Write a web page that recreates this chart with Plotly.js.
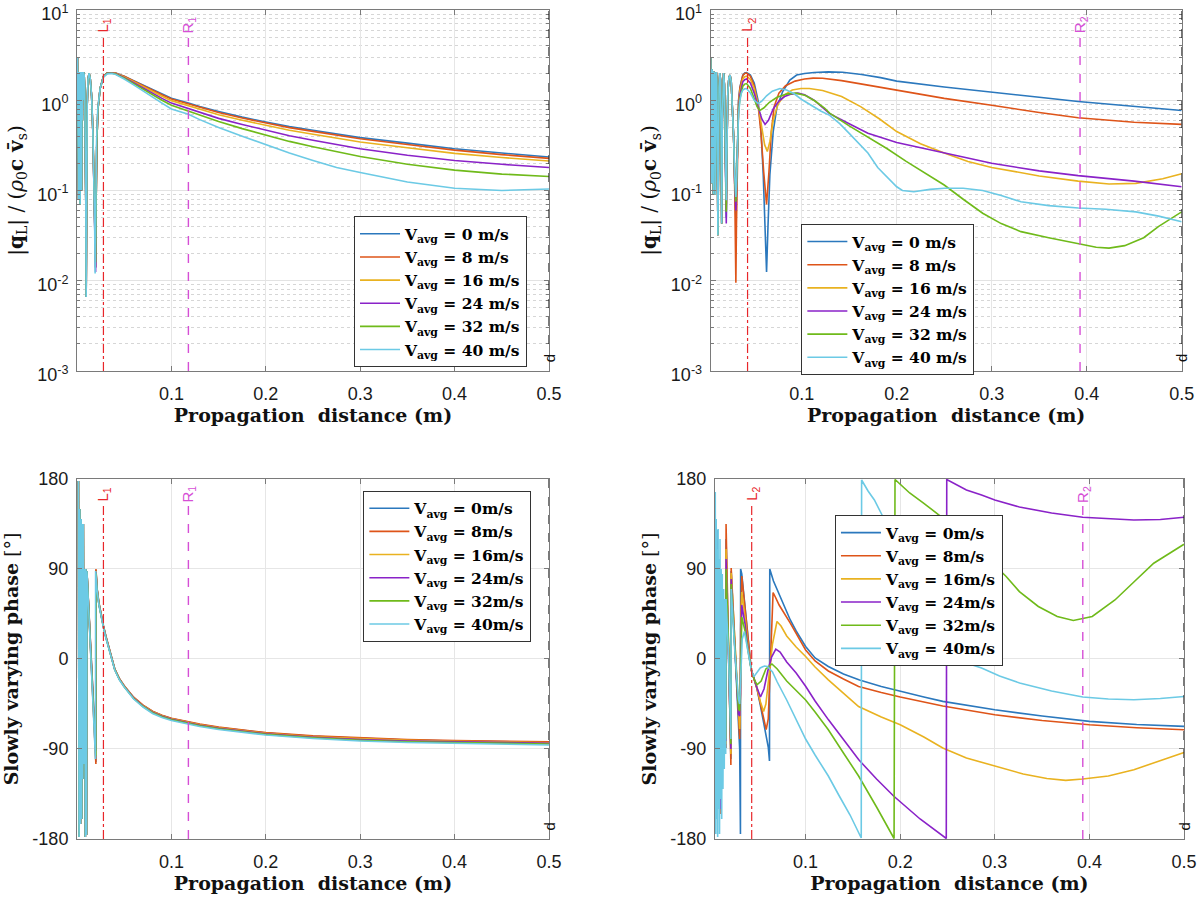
<!DOCTYPE html>
<html><head><meta charset="utf-8">
<script src="https://cdn.plot.ly/plotly-3.0.1.min.js"></script>
<style>html,body{margin:0;padding:0;background:#fff}#chart{width:1200px;height:901px}</style>
</head><body><div id="chart"></div>
<script>
// ---------------- series meta ----------------
const COLORS = ['#2B78BD', '#DE5419', '#E9B220', '#8A22C8', '#6FBA1A', '#6CCAE5'];
const labelsTop = ['0 m/s', '8 m/s', '16 m/s', '24 m/s', '32 m/s', '40 m/s'];
const labelsBottom = ['0m/s', '8m/s', '16m/s', '24m/s', '32m/s', '40m/s'];
const markL = [0.028, 0.043];   // L1, L2
const markR = [0.118, 0.393];   // R1, R2
const markD = 0.5;              // d

// ---------------- top-left: |q_L| (case 1) ----------------
const tlNearXc = [0.0005,0.0009,0.0013,0.0017,0.0021,0.0025,0.0029,0.0033,0.0037,0.0041,0.0045,0.0049,0.0053,0.0057,0.0061,0.0065,0.007,0.0076,0.0082,0.0088,0.0093,0.0097,0.0102,0.0108,0.0117,0.0128,0.014,0.0155,0.0168,0.0178,0.0186,0.0192,0.0198,0.0207,0.022,0.0245,0.028,0.032];
const tlNearX  = [0.0005,0.0009,0.0013,0.0017,0.0021,0.0025,0.0029,0.0033,0.0037,0.0041,0.0045,0.0049,0.0053,0.0057,0.0061,0.0065,0.007,0.0076,0.0082,0.0088,0.0093,0.0097,0.0102,0.0108,0.0117,0.0128,0.014,0.0155,0.0168,0.0178,0.0188,0.0197,0.0203,0.021,0.0222,0.0245,0.028,0.032];
const tlNear0 = [3.0,0.35,2.1,0.08,2.05,0.5,2.05,0.07,2.05,0.25,2.05,0.1,2.0,0.6,2.05,1.0,2.05,1.9,1.3,0.4,0.08,0.0066,0.2,0.9,1.7,2.0,1.75,1.1,0.45,0.17,0.05,0.014,0.08,0.35,0.8,1.35,1.85,2.02];
const tlNear1 = [3.0,0.35,2.1,0.08,2.05,0.5,2.05,0.07,2.05,0.25,2.05,0.1,2.0,0.6,2.05,1.0,2.05,1.9,1.3,0.4,0.08,0.0066,0.2,0.9,1.7,2.0,1.75,1.1,0.45,0.17,0.05,0.014,0.08,0.35,0.8,1.35,1.84,2.02];
const tlNear2 = [3.0,0.35,2.1,0.08,2.05,0.5,2.05,0.07,2.05,0.25,2.05,0.1,2.0,0.6,2.05,1.0,2.05,1.9,1.3,0.4,0.08,0.0066,0.2,0.9,1.7,2.0,1.75,1.1,0.45,0.17,0.05,0.018,0.08,0.35,0.8,1.35,1.83,2.01];
const tlNear3 = [3.0,0.35,2.1,0.08,2.05,0.5,2.05,0.07,2.05,0.25,2.05,0.1,2.0,0.6,2.05,1.0,2.05,1.9,1.3,0.4,0.08,0.0066,0.2,0.9,1.7,2.0,1.75,1.1,0.45,0.17,0.05,0.0125,0.08,0.35,0.8,1.35,1.82,2.0];
const tlNear4 = [3.0,0.35,2.1,0.08,2.05,0.5,2.05,0.07,2.05,0.25,2.05,0.1,2.0,0.6,2.05,1.0,2.05,1.9,1.3,0.4,0.08,0.0066,0.2,0.9,1.7,2.0,1.75,1.1,0.45,0.17,0.05,0.016,0.08,0.35,0.8,1.35,1.82,1.99];
const tlNear5 = [3.0,0.35,2.1,0.08,2.05,0.5,2.05,0.07,2.05,0.25,2.05,0.1,2.0,0.6,2.05,1.0,2.05,1.9,1.3,0.4,0.08,0.0066,0.2,0.9,1.7,2.0,1.75,1.1,0.45,0.17,0.05,0.012,0.08,0.35,0.8,1.35,1.8,1.96];
const tlFarX = [0.037,0.041,0.045,0.05,0.06,0.07,0.08,0.09,0.1,0.118,0.13,0.15,0.175,0.2,0.225,0.25,0.275,0.3,0.35,0.4,0.45,0.5];
const tlFar0 = [2.02,2.0,1.93,1.85,1.65,1.47,1.31,1.17,1.05,0.93,0.85,0.75,0.65,0.575,0.51,0.465,0.42,0.385,0.335,0.29,0.26,0.235];
const tlFar1 = [2.02,2.0,1.92,1.84,1.64,1.45,1.29,1.15,1.03,0.91,0.83,0.73,0.635,0.56,0.497,0.452,0.41,0.374,0.324,0.28,0.25,0.227];
const tlFar2 = [2.01,1.98,1.9,1.81,1.6,1.41,1.25,1.11,0.99,0.87,0.79,0.69,0.6,0.525,0.465,0.42,0.38,0.345,0.297,0.258,0.232,0.212];
const tlFar3 = [2.0,1.97,1.88,1.78,1.56,1.36,1.19,1.05,0.93,0.81,0.73,0.63,0.54,0.465,0.405,0.36,0.322,0.29,0.246,0.215,0.195,0.18];
const tlFar4 = [1.99,1.95,1.86,1.76,1.53,1.32,1.15,1.0,0.88,0.76,0.68,0.58,0.485,0.41,0.35,0.305,0.268,0.238,0.195,0.168,0.152,0.143];
const tlFar5 = [1.98,1.93,1.83,1.72,1.48,1.26,1.08,0.93,0.8,0.7,0.61,0.5,0.4,0.32,0.26,0.215,0.18,0.158,0.124,0.106,0.1,0.104];

// ---------------- top-right: |q_L| (case 2) ----------------
const trNearX = [0.0042,0.0046,0.005,0.0054,0.0058,0.0062,0.0066,0.007,0.0074,0.0078,0.0082,0.0086,0.009,0.0096,0.0101,0.0106,0.011,0.0114,0.0118,0.0123,0.013,0.0138,0.0145,0.015,0.0158,0.0164,0.017,0.0178,0.0186,0.0194,0.02,0.0206,0.0213,0.0222,0.0234,0.0246,0.0258,0.027,0.0283,0.0295,0.0302,0.0307,0.0313,0.0323,0.0335,0.035,0.0365,0.038,0.04];
const trNear0 = [3.0,0.6,2.4,0.12,2.2,0.4,2.1,0.09,2.1,0.5,2.05,0.2,0.09,1.5,2.05,1.7,0.8,0.15,0.032,0.3,1.4,2.0,1.7,0.6,0.043,0.6,1.6,2.0,1.5,0.5,0.15,0.05,0.3,1.2,1.8,1.9,1.6,0.9,0.4,0.12,0.07,0.05,0.09,0.35,1.0,1.4,1.7,1.9,2.0];
const trNear1 = [3.0,0.6,2.4,0.12,2.2,0.4,2.1,0.09,2.1,0.5,2.05,0.2,0.09,1.5,2.05,1.7,0.8,0.15,0.032,0.3,1.4,2.0,1.7,0.6,0.043,0.6,1.6,2.0,1.5,0.5,0.15,0.06,0.3,1.2,1.8,1.9,1.6,0.9,0.4,0.1,0.03,0.0095,0.04,0.3,0.95,1.38,1.68,1.88,1.98];
const trNear2 = [3.0,0.6,2.4,0.12,2.2,0.4,2.1,0.09,2.1,0.5,2.05,0.2,0.09,1.5,2.05,1.7,0.8,0.15,0.032,0.3,1.4,2.0,1.7,0.6,0.043,0.6,1.6,2.0,1.5,0.5,0.15,0.07,0.3,1.2,1.8,1.9,1.6,0.9,0.4,0.13,0.085,0.07,0.1,0.33,0.85,1.25,1.55,1.72,1.82];
const trNear3 = [3.0,0.6,2.4,0.12,2.2,0.4,2.1,0.09,2.1,0.5,2.05,0.2,0.09,1.5,2.05,1.7,0.8,0.15,0.032,0.3,1.4,2.0,1.7,0.6,0.043,0.6,1.6,2.0,1.5,0.5,0.15,0.043,0.3,1.2,1.8,1.9,1.6,0.9,0.4,0.12,0.075,0.06,0.1,0.33,0.8,1.15,1.42,1.6,1.69];
const trNear4 = [3.0,0.6,2.4,0.12,2.2,0.4,2.1,0.09,2.1,0.5,2.05,0.2,0.09,1.5,2.05,1.7,0.8,0.15,0.032,0.3,1.4,2.0,1.7,0.6,0.043,0.6,1.6,2.0,1.5,0.5,0.15,0.058,0.3,1.2,1.8,1.9,1.6,0.9,0.4,0.14,0.09,0.075,0.11,0.34,0.75,1.05,1.28,1.43,1.51];
const trNear5 = [3.0,0.6,2.4,0.12,2.2,0.4,2.1,0.09,2.1,0.5,2.05,0.2,0.09,1.5,2.05,1.7,0.8,0.15,0.032,0.3,1.4,2.0,1.7,0.6,0.043,0.6,1.6,2.0,1.5,0.5,0.15,0.078,0.3,1.2,1.8,1.9,1.6,0.9,0.4,0.15,0.1,0.085,0.12,0.35,0.7,1.0,1.2,1.3,1.34];
const trFarX0 = [0.042,0.046,0.05,0.054,0.057,0.0595,0.0615,0.063,0.0645,0.0665,0.07,0.074,0.08,0.0875,0.0947,0.103,0.113,0.128,0.143,0.163,0.183,0.2,0.25,0.3,0.35,0.391,0.45,0.5];
const trFar0  = [2.02,1.9,1.55,1.0,0.5,0.15,0.03,0.0125,0.04,0.15,0.45,0.85,1.25,1.67,1.9,1.98,2.03,2.06,2.04,1.93,1.78,1.63,1.4,1.24,1.08,0.97,0.86,0.77];
const trFarX1 = [0.042,0.046,0.05,0.054,0.057,0.06,0.063,0.0655,0.068,0.071,0.076,0.083,0.093,0.103,0.112,0.122,0.142,0.162,0.182,0.2,0.25,0.3,0.35,0.391,0.45,0.5];
const trFar1  = [2.0,1.85,1.45,0.9,0.45,0.16,0.07,0.16,0.45,0.85,1.2,1.45,1.63,1.72,1.76,1.75,1.65,1.52,1.4,1.29,1.05,0.88,0.73,0.64,0.57,0.54];
const trFarX2 = [0.042,0.046,0.05,0.054,0.058,0.061,0.0638,0.0665,0.07,0.075,0.082,0.09,0.0992,0.108,0.122,0.142,0.162,0.182,0.2,0.225,0.25,0.275,0.3,0.35,0.391,0.4235,0.4517,0.48,0.5];
const trFar2  = [1.85,1.7,1.35,0.9,0.5,0.32,0.27,0.35,0.6,0.9,1.15,1.3,1.35,1.35,1.28,1.1,0.85,0.62,0.45,0.33,0.26,0.21,0.18,0.145,0.127,0.118,0.12,0.135,0.153];
const trFarX3 = [0.042,0.046,0.05,0.054,0.058,0.0614,0.065,0.07,0.076,0.082,0.089,0.096,0.103,0.113,0.12,0.1294,0.15,0.1697,0.2,0.25,0.3,0.35,0.391,0.45,0.5];
const trFar3  = [1.72,1.55,1.2,0.85,0.62,0.54,0.6,0.8,0.98,1.1,1.17,1.2,1.15,1.0,0.86,0.71,0.55,0.43,0.34,0.26,0.2,0.165,0.146,0.127,0.11];
const trFarX4 = [0.042,0.046,0.05,0.053,0.056,0.06,0.066,0.074,0.084,0.094,0.104,0.114,0.124,0.1294,0.15,0.1697,0.19,0.21,0.23,0.25,0.27,0.2905,0.31,0.3308,0.36,0.3913,0.41,0.4235,0.44,0.46,0.4758,0.5];
const trFar4  = [1.53,1.35,1.05,0.85,0.77,0.82,0.95,1.08,1.17,1.2,1.13,0.98,0.82,0.72,0.52,0.39,0.29,0.21,0.155,0.115,0.08,0.056,0.043,0.035,0.03,0.026,0.0235,0.023,0.0245,0.03,0.04,0.058];
const trFarX5 = [0.042,0.046,0.05,0.0543,0.058,0.063,0.069,0.077,0.084,0.092,0.1,0.11,0.12,0.1294,0.14,0.15,0.16,0.1697,0.18,0.1898,0.2,0.206,0.218,0.235,0.2502,0.27,0.2905,0.31,0.3308,0.36,0.3913,0.42,0.4517,0.4758,0.5];
const trFar5  = [1.35,1.2,1.0,0.92,0.98,1.12,1.26,1.35,1.3,1.18,1.02,0.88,0.76,0.68,0.55,0.43,0.33,0.26,0.18,0.14,0.11,0.1,0.097,0.103,0.106,0.106,0.1,0.088,0.075,0.068,0.064,0.062,0.058,0.052,0.045];

// ---------------- bottom-left: phase (case 1) ----------------
const blNearXc = [0.0015,0.0022,0.003,0.0037,0.0044,0.005,0.0055,0.0061,0.0067,0.0074,0.0082,0.0088,0.0094,0.0101,0.0105,0.0196,0.0197,0.0212,0.0232,0.0256,0.028,0.0305,0.0335,0.0365];
const blNearX  = [0.0015,0.0022,0.003,0.0037,0.0044,0.005,0.0055,0.0061,0.0067,0.0074,0.0082,0.0088,0.0094,0.0101,0.0105,0.0200,0.0201,0.0212,0.0232,0.0256,0.028,0.0305,0.0335,0.0365];
const blNear0 = [178,-178,150,-165,140,-160,135,-120,135,-105,90,-178,90,-176,88,-103,89,71,56,43.5,33,23,13,4];
const blNear1 = [178,-178,150,-165,140,-160,135,-120,135,-105,90,-178,90,-176,88,-105,90,71.5,56.3,43.8,33.3,23.3,13.3,4.3];
const blNear2 = [178,-178,150,-165,140,-160,135,-120,135,-105,90,-178,90,-176,88,-96,88,70.5,55.5,43,32.5,22.5,12.5,3.5];
const blNear3 = [178,-178,150,-165,140,-160,135,-120,135,-105,90,-178,90,-176,88,-92,87,70,55,42.7,32.2,22.2,12.2,3.2];
const blNear4 = [178,-178,150,-165,140,-160,135,-120,135,-105,90,-178,90,-176,88,-97,86,69.5,54.7,42.4,31.9,21.9,11.9,2.9];
const blNear5 = [178,-178,150,-165,140,-160,135,-120,135,-105,90,-178,90,-176,88,-100,88,69,54.5,42,31.5,21.5,11.5,2.5];
const blFarX = [0.04,0.045,0.05,0.06,0.07,0.08,0.09,0.1,0.117,0.13,0.15,0.175,0.2,0.25,0.3,0.35,0.4,0.45,0.5];
const blFar0 = [-10,-20,-27,-38.5,-46.5,-52.5,-56.5,-59.5,-63,-65.5,-68.5,-71.5,-74,-77.3,-79.5,-81,-82,-82.8,-83.3];
const blFar1 = [-10,-19.8,-26.8,-38.2,-46.2,-52.2,-56.2,-59.2,-62.6,-65.1,-68.1,-71.1,-73.6,-76.9,-79.1,-80.6,-81.6,-82.4,-82.9];
const blFar2 = [-10.2,-20.2,-27.2,-38.8,-46.8,-52.8,-56.8,-59.9,-63.4,-65.9,-68.9,-71.9,-74.4,-77.7,-79.9,-81.4,-82.4,-83.2,-83.7];
const blFar3 = [-10.4,-20.4,-27.4,-39.1,-47.1,-53.2,-57.2,-60.3,-63.8,-66.3,-69.3,-72.3,-74.9,-78.2,-80.5,-82,-83,-83.8,-84.3];
const blFar4 = [-10.6,-20.7,-27.7,-39.5,-47.5,-53.7,-57.7,-60.8,-64.3,-66.8,-69.8,-72.8,-75.4,-78.8,-81.2,-82.7,-83.7,-84.5,-85];
const blFar5 = [-11,-21,-28,-40,-48,-54.5,-58.5,-61.5,-65,-67.5,-70.5,-73.5,-76,-79.5,-82,-83.5,-84.5,-85.3,-86];

// ---------------- bottom-right: phase (case 2) ----------------
const brNearX  = [0.004,0.005,0.0062,0.0066,0.008,0.0095,0.0101,0.0104,0.013,0.0157,0.0159,0.0185,0.021,0.0213,0.025,0.029,0.0303,0.0311,0.0313,0.0325,0.036,0.039];
const brNear0 = [100,-150,129,-90,60,-100,88,-130,30,-89,120,20,-100,88,20,-60,-90,-175,90,85,52,18];
const brNear1 = [100,-150,110,-90,60,-100,86,-155,30,-89,135,20,-106,91,20,-65,-80,-30,30,83,50,17];
const brNear2 = [100,-150,100,-90,60,-100,84,-140,30,-85,110,18,-95,86,18,-60,-70,-35,10,67,42,14];
const brNear3 = [100,-150,95,-90,60,-100,82,-150,30,-82,100,16,-90,80,16,-55,-57,-35,-5,54,35,11];
const brNear4 = [100,-150,90,-90,60,-100,80,-120,30,-80,90,14,-85,75,14,-50,-52,-35,-15,42,28,9];
const brNearXc = [0.004,0.0045,0.005,0.0055,0.006,0.0065,0.007,0.0075,0.008,0.0085,0.009,0.0095,0.0101,0.0107,0.0113,0.0119,0.0126,0.0133,0.014,0.0147,0.0155,0.0159,0.0185,0.021,0.0213,0.025,0.029,0.0303,0.033,0.0353,0.039];
const brNear5 = [-170,167,-175,140,-160,110,-178,130,-150,100,-175,120,-140,90,-160,85,-130,70,-110,60,-95,60,5,-80,70,10,-40,-45,20,27.5,8];
const brFarX0 = [0.0426,0.0455,0.0487,0.0523,0.0556,0.0583,0.0605,0.0618,0.0621,0.066,0.0717,0.078,0.0838,0.09,0.1,0.11,0.124,0.14,0.157,0.18,0.2,0.225,0.245,0.27,0.3,0.35,0.4,0.45,0.5];
const brFar0  = [-11,-20,-30,-47,-63,-75,-88,-102,90,78,66,51,39,28,12.5,1,-7.5,-15,-21,-27.5,-32.5,-38,-42.4,-46.5,-50.8,-57,-62.4,-65.5,-67.4];
const brFarX1 = [0.0426,0.0455,0.0487,0.0523,0.0556,0.0583,0.0605,0.0625,0.064,0.0656,0.068,0.072,0.0838,0.1,0.11,0.124,0.14,0.156,0.18,0.2,0.245,0.3,0.35,0.4,0.45,0.5];
const brFar1  = [-11,-20,-30,-45,-60,-70.7,-60,-15,35,66.4,62,54,35.8,9,-2,-12,-20,-27.5,-33.5,-38,-47,-55.8,-61.5,-65.8,-68.8,-70.8];
const brFarX2 = [0.0426,0.0455,0.0487,0.0523,0.0556,0.058,0.061,0.065,0.0697,0.074,0.08,0.09,0.1,0.11,0.124,0.14,0.156,0.18,0.2,0.225,0.245,0.27,0.3,0.33,0.355,0.375,0.393,0.42,0.447,0.475,0.5];
const brFar2  = [-11,-20,-29,-43,-52.5,-45,-20,15,37.5,33,23,12,2.5,-8,-20.8,-34,-47.5,-58,-65.8,-78,-89,-99,-107,-115,-119.5,-121.4,-120,-117,-110.8,-102,-93.4];
const brFarX3 = [0.0426,0.0455,0.0487,0.0523,0.056,0.06,0.064,0.0685,0.073,0.08,0.09,0.1,0.11,0.124,0.14,0.156,0.175,0.193,0.221,0.2487,0.2492,0.26,0.27,0.286,0.3,0.326,0.36,0.393,0.42,0.447,0.475,0.5];
const brFar3  = [-11,-20,-29,-38,-30,-12,2,9.9,7,-3,-14,-27.3,-42,-60.6,-80,-100.6,-120,-137,-160,-179.5,179.5,174,169,164,159,152,146,141.7,140,139,139.5,141.7];
const brFarX4 = [0.0426,0.0455,0.0487,0.053,0.058,0.0644,0.07,0.08,0.09,0.1,0.11,0.124,0.14,0.156,0.175,0.1935,0.1945,0.21,0.225,0.241,0.26,0.28,0.3,0.312,0.326,0.346,0.366,0.383,0.403,0.427,0.447,0.468,0.5];
const brFar4  = [-11,-20,-25.8,-22,-10,-5,-10,-22,-32,-41,-53,-70.7,-94,-117,-148,-179.5,179.5,166,155.7,144,130,112,93,82.5,67.4,52.5,42.5,38.5,42.5,59,77,95.8,114.7];
const brFarX5 = [0.0426,0.0454,0.048,0.052,0.0565,0.0596,0.065,0.07,0.08,0.09,0.1,0.11,0.124,0.135,0.147,0.1588,0.1592,0.166,0.1727,0.1808,0.19,0.2,0.215,0.23,0.2515,0.27,0.286,0.305,0.3262,0.36,0.393,0.42,0.447,0.475,0.5];
const brFar5  = [-11,-17.6,-14,-9,-7,-7.5,-13,-23,-41,-60,-80,-96,-117,-136,-156,-179,179,168,159,144,125,104,75,48,6,-4,-9,-17,-24,-32,-38,-40,-40.7,-39.5,-37.5];

// ---------------- assemble ----------------
const panels = [
  {xa:'x',  ya:'y',  leg:'legend',  labels:labelsTop,
   xs:[tlNearX.concat(tlFarX), tlNearX.concat(tlFarX), tlNearX.concat(tlFarX), tlNearX.concat(tlFarX), tlNearX.concat(tlFarX), tlNearXc.concat(tlFarX)],
   ys:[tlNear0.concat(tlFar0), tlNear1.concat(tlFar1), tlNear2.concat(tlFar2), tlNear3.concat(tlFar3), tlNear4.concat(tlFar4), tlNear5.concat(tlFar5)]},
  {xa:'x2', ya:'y2', leg:'legend2', labels:labelsTop,
   xs:[trNearX.concat(trFarX0), trNearX.concat(trFarX1), trNearX.concat(trFarX2), trNearX.concat(trFarX3), trNearX.concat(trFarX4), trNearX.concat(trFarX5)],
   ys:[trNear0.concat(trFar0), trNear1.concat(trFar1), trNear2.concat(trFar2), trNear3.concat(trFar3), trNear4.concat(trFar4), trNear5.concat(trFar5)]},
  {xa:'x3', ya:'y3', leg:'legend3', labels:labelsBottom,
   xs:[blNearX.concat(blFarX), blNearX.concat(blFarX), blNearX.concat(blFarX), blNearX.concat(blFarX), blNearX.concat(blFarX), blNearXc.concat(blFarX)],
   ys:[blNear0.concat(blFar0), blNear1.concat(blFar1), blNear2.concat(blFar2), blNear3.concat(blFar3), blNear4.concat(blFar4), blNear5.concat(blFar5)]},
  {xa:'x4', ya:'y4', leg:'legend4', labels:labelsBottom,
   xs:[brNearX.concat(brFarX0), brNearX.concat(brFarX1), brNearX.concat(brFarX2), brNearX.concat(brFarX3), brNearX.concat(brFarX4), brNearXc.concat(brFarX5)],
   ys:[brNear0.concat(brFar0), brNear1.concat(brFar1), brNear2.concat(brFar2), brNear3.concat(brFar3), brNear4.concat(brFar4), brNear5.concat(brFar5)]}
];

const traces = [];
panels.forEach(p => {
  for (let i = 0; i < 6; i++) {
    traces.push({
      type:'scatter', mode:'lines', x:p.xs[i], y:p.ys[i],
      xaxis:p.xa, yaxis:p.ya, legend:p.leg,
      name:'<b>V<sub>avg</sub> = ' + p.labels[i] + '</b>',
      line:{color:COLORS[i], width:1.6}, hoverinfo:'skip'
    });
  }
});

// ---------------- axes ----------------
const AX = '#7a7a7a';
const tickFont = {family:'Liberation Sans, Arial, sans-serif', size:18, color:'#1a1a1a'};
const titleFont = {family:'DejaVu Serif, serif', size:19, color:'#111'};
const minorLog = [];
[0.001, 0.01, 0.1, 1].forEach(d => { for (let k = 2; k <= 9; k++) minorLog.push(d * k); });

function xAxis(dom, anchor, range) {
  return {domain:dom, anchor:anchor, range:range, automargin:false, ticklabeloverflow:'allow',
    tickmode:'array', tickvals:[0.1,0.2,0.3,0.4,0.5], ticktext:['0.1','0.2','0.3','0.4','0.5'],
    showgrid:true, gridcolor:'#e6e6e6', gridwidth:1, zeroline:false,
    showline:true, linecolor:AX, linewidth:1, mirror:'ticks',
    ticks:'inside', ticklen:5, tickcolor:AX, tickfont:tickFont, ticklabelstandoff:6,
    title:{text:'<b>Propagation\u00a0\u00a0distance (m)</b>', font:titleFont, standoff:6}};
}
function yLog(dom, anchor) {
  return {domain:dom, anchor:anchor, type:'log', range:[-3.00001, 1.00001], automargin:false, ticklabeloverflow:'allow',
    tickmode:'array', tickvals:[0.001,0.01,0.1,1,10],
    ticktext:['10<sup>-3</sup>','10<sup>-2</sup>','10<sup>-1</sup>','10<sup>0</sup>','10<sup>1</sup>'],
    showgrid:true, gridcolor:'#e3e3e3', zeroline:false,
    minor:{tickmode:'array', tickvals:minorLog, showgrid:true, gridcolor:'#d6d6d6', griddash:'dot', ticks:'inside', ticklen:3, tickcolor:AX},
    showline:true, linecolor:AX, linewidth:1, mirror:'ticks',
    ticks:'inside', ticklen:5, tickcolor:AX, tickfont:tickFont, ticklabelstandoff:4, ticklabelshift:4,
    title:{text:'|<b>q</b><sub>L</sub>| / (<i>ρ</i><sub>0</sub><b>c v\u0304</b><sub>s</sub>)', font:{family:'DejaVu Serif, serif', size:20, color:'#111'}, standoff:8}};
}
function yPhase(dom, anchor) {
  return {domain:dom, anchor:anchor, range:[-180,180], automargin:false, ticklabeloverflow:'allow',
    tickmode:'array', tickvals:[-180,-90,0,90,180], ticktext:['-180','-90','0','90','180'],
    showgrid:true, gridcolor:'#e6e6e6', zeroline:false,
    showline:true, linecolor:AX, linewidth:1, mirror:'ticks',
    ticks:'inside', ticklen:5, tickcolor:AX, tickfont:tickFont, ticklabelstandoff:4,
    title:{text:'<b>Slowly varying phase</b> [°]', font:titleFont, standoff:8}};
}

const legendBase = {bgcolor:'#ffffff', bordercolor:'#333', borderwidth:1, itemwidth:40,
  font:{family:'DejaVu Serif, serif', size:15.5, color:'#000'}, xanchor:'left', yanchor:'top', tracegroupgap:0};

// ---------------- marker lines & labels ----------------
const shapes = [], annotations = [];
const markerSets = [
  {xa:'x',  ya:'y',  L:markL[0], R:markR[0], n:'1'},
  {xa:'x2', ya:'y2', L:markL[1], R:markR[1], n:'2'},
  {xa:'x3', ya:'y3', L:markL[0], R:markR[0], n:'1'},
  {xa:'x4', ya:'y4', L:markL[1], R:markR[1], n:'2'}
];
markerSets.forEach(m => {
  const yd = m.ya + ' domain';
  shapes.push({type:'line', xref:m.xa, yref:yd, x0:m.L, x1:m.L, y0:0, y1:0.925, line:{color:'#E8262A', width:1.2, dash:'dashdot'}});
  shapes.push({type:'line', xref:m.xa, yref:yd, x0:m.R, x1:m.R, y0:0, y1:0.925, line:{color:'#D64FD6', width:1.4, dash:'dash'}});
  shapes.push({type:'line', xref:m.xa, yref:yd, x0:markD, x1:markD, y0:0.075, y1:1, line:{color:'#222', width:1.2, dash:'dash'}});
  annotations.push({xref:m.xa, yref:yd, x:m.L, y:0.958, text:'L<sub>' + m.n + '</sub>', textangle:-90, showarrow:false,
    xanchor:'center', yanchor:'middle', font:{family:'Liberation Sans, Arial', size:15, color:'#E8262A'}});
  annotations.push({xref:m.xa, yref:yd, x:m.R, y:0.958, text:'R<sub>' + m.n + '</sub>', textangle:-90, showarrow:false,
    xanchor:'center', yanchor:'middle', font:{family:'Liberation Sans, Arial', size:15, color:'#D64FD6'}});
  annotations.push({xref:m.xa, yref:yd, x:markD, y:0.035, text:'d', textangle:-90, showarrow:false,
    xanchor:'center', yanchor:'middle', font:{family:'Liberation Sans, Arial', size:15, color:'#111'}});
});

const layout = {
  width:1200, height:901, margin:{l:0, r:0, t:0, b:0},
  paper_bgcolor:'#fff', plot_bgcolor:'#fff', showlegend:true,
  xaxis: xAxis([0.06417, 0.4575], 'y', [0, 0.5]),
  yaxis: yLog([0.58824, 0.98890], 'x'),
  xaxis2: xAxis([0.59225, 0.98475], 'y2', [0.0042, 0.5]),
  yaxis2: yLog([0.58824, 0.98890], 'x2'),
  xaxis3: xAxis([0.06417, 0.4575], 'y3', [0, 0.5]),
  yaxis3: yPhase([0.06881, 0.46837], 'x3'),
  xaxis4: xAxis([0.59567, 0.98667], 'y4', [0.004, 0.5]),
  yaxis4: yPhase([0.06881, 0.46837], 'x4'),
  legend:  Object.assign({}, legendBase, {x:0.295, y:0.760}),
  legend2: Object.assign({}, legendBase, {x:0.6678, y:0.7514}),
  legend3: Object.assign({}, legendBase, {x:0.3028, y:0.4554}),
  legend4: Object.assign({}, legendBase, {x:0.6958, y:0.4284}),
  shapes:shapes, annotations:annotations
};

Plotly.newPlot('chart', traces, layout, {displayModeBar:false, staticPlot:true});
</script></body></html>
